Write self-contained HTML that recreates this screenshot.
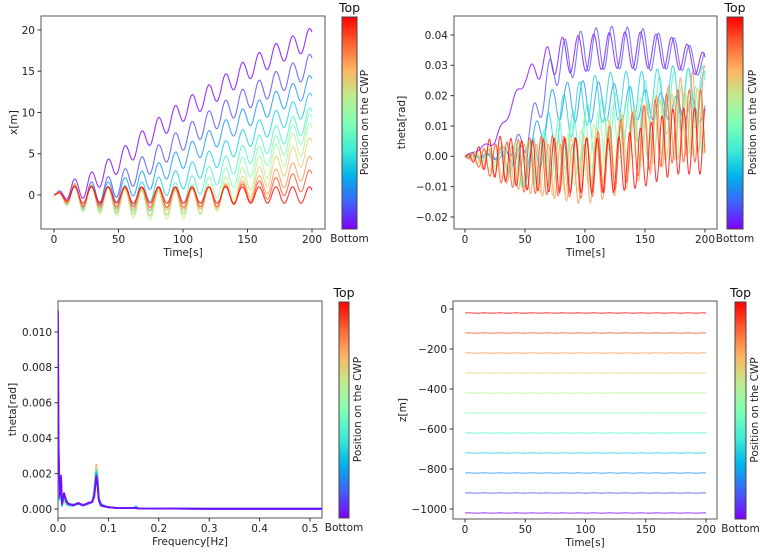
<!DOCTYPE html>
<html><head><meta charset="utf-8"><style>
body{margin:0;background:#fff}
svg{display:block;font-family:"DejaVu Sans","Liberation Sans",sans-serif}
</style></head><body>
<svg id="c" width="768" height="553" viewBox="0 0 768 553">
<defs>
<linearGradient id="rb" x1="0" y1="1" x2="0" y2="0">
<stop offset="0" stop-color="rgb(128,0,255)"/><stop offset="0.125" stop-color="rgb(64,98,250)"/>
<stop offset="0.25" stop-color="rgb(0,180,235)"/><stop offset="0.375" stop-color="rgb(64,236,212)"/>
<stop offset="0.5" stop-color="rgb(128,255,180)"/><stop offset="0.625" stop-color="rgb(191,236,141)"/>
<stop offset="0.75" stop-color="rgb(255,180,98)"/><stop offset="0.875" stop-color="rgb(255,98,50)"/>
<stop offset="1" stop-color="rgb(255,0,0)"/></linearGradient>
</defs>
</svg>
<script>
// ---- data ----
const T_KNOTS=[0,25,50,75,100,125,150,175,200];
const TL_center=[
[0,1.0,4.0,7.4,10.2,12.5,15.2,17.3,19.0],
[0,0,1.2,4.0,6.8,9.3,11.8,13.8,15.8],
[0,-0.2,0.5,2,4.5,7,9.5,11.5,13.3],
[0,-0.3,-0.3,0.5,2,4.5,7,9.2,11.2],
[0,-0.3,-0.6,-0.6,0.3,2.5,5,7.3,9.3],
[0,-0.4,-0.8,-1.0,-0.7,1,3.5,6,8.5],
[0,-0.4,-0.9,-1.3,-1.2,-0.2,2,4.8,7.2],
[0,-0.3,-0.7,-1.0,-0.9,-0.5,1,3.5,5.6],
[0,-0.2,-0.4,-0.5,-0.5,-0.3,0.5,2,3.5],
[0,-0.1,-0.2,-0.3,-0.3,-0.2,0.2,1,1.9],
[0,0,0,0,0,0,0,0,0]];
const TL_amp=[1.3,1.4,1.3,1.3,1.4,1.5,1.7,1.5,1.3,1.2,1.0];
const TR_center=[
[0,0.005,0.026,0.033,0.034,0.035,0.035,0.034,0.030],
[0,0,0.005,0.03,0.035,0.036,0.035,0.034,0.03],
[0,0,0,0.018,0.018,0.018,0.017,0.016,0.015],
[0,0,-0.004,0.01,0.018,0.02,0.02,0.022,0.02],
[0,0,-0.004,0.003,0.008,0.012,0.015,0.018,0.02],
[0,0,-0.003,0,0.004,0.008,0.01,0.012,0.012],
[0,0,-0.003,-0.002,0,0.005,0.008,0.01,0.01],
[0,-0.001,-0.003,-0.004,-0.002,0.003,0.007,0.01,0.012],
[0,-0.002,-0.004,-0.005,-0.006,-0.002,0.005,0.012,0.016],
[0,-0.002,-0.003,-0.003,-0.004,0,0.006,0.01,0.01],
[0,0,-0.003,-0.003,-0.003,-0.003,0,0.005,0.005]];
const TR_amp=[
[0,0.001,0.002,0.006,0.006,0.006,0.006,0.005,0.004],
[0,0.001,0.004,0.007,0.007,0.007,0.007,0.005,0.004],
[0,0.001,0.004,0.006,0.007,0.006,0.005,0.004,0.004],
[0,0.001,0.006,0.008,0.008,0.008,0.008,0.008,0.008],
[0,0.002,0.007,0.009,0.009,0.009,0.01,0.01,0.01],
[0,0.003,0.008,0.009,0.009,0.009,0.01,0.011,0.011],
[0,0.004,0.008,0.008,0.009,0.009,0.009,0.01,0.01],
[0,0.005,0.008,0.009,0.009,0.01,0.01,0.011,0.011],
[0,0.005,0.008,0.009,0.01,0.011,0.012,0.013,0.014],
[0,0.006,0.009,0.01,0.01,0.011,0.011,0.012,0.012],
[0,0.007,0.008,0.009,0.009,0.009,0.01,0.011,0.011]];
const TR_period=[13,13,13,13,12,11.5,11,10.5,10,9.5,9];
const TR_phase=[0,2,4,1,3,5,6,2,7,4,0];
const FFT_freq=[0,0.001,0.003,0.006,0.008,0.012,0.016,0.02,0.03,0.04,0.05,0.06,0.068,0.072,0.076,0.078,0.081,0.085,0.09,0.1,0.12,0.15,0.155,0.16,0.2,0.23,0.3,0.525];
const FFT_vals=[ // x1e-3, index 0 = bottom (purple)
[11.2,4,0.8,1.9,0.3,0.9,0.5,0.3,0.2,0.35,0.2,0.35,0.4,0.8,1.8,1.5,0.5,0.2,0.15,0.1,0.05,0.05,0.05,0.03,0.02,0.02,0.01,0.01],
[10,3.5,0.7,1.8,0.3,0.9,0.5,0.3,0.25,0.3,0.25,0.3,0.4,0.7,1.9,1.6,0.5,0.2,0.15,0.1,0.05,0.05,0.06,0.03,0.02,0.02,0.01,0.01],
[8,3,0.6,1.6,0.2,0.8,0.4,0.3,0.2,0.3,0.2,0.3,0.4,0.8,2.0,1.7,0.6,0.3,0.2,0.1,0.05,0.06,0.1,0.03,0.02,0.02,0.01,0.01],
[6,2.5,0.6,1.5,0.2,0.8,0.4,0.2,0.2,0.3,0.2,0.3,0.4,0.9,2.1,1.8,0.6,0.3,0.2,0.1,0.05,0.06,0.12,0.03,0.02,0.02,0.01,0.01],
[5,2.2,0.5,1.3,0.2,0.7,0.4,0.2,0.2,0.3,0.2,0.3,0.4,0.9,2.2,1.8,0.6,0.3,0.2,0.1,0.05,0.06,0.15,0.03,0.02,0.02,0.01,0.01],
[4,2,0.5,1.2,0.2,0.7,0.3,0.2,0.2,0.3,0.2,0.3,0.4,1.0,2.2,1.9,0.6,0.3,0.2,0.1,0.05,0.06,0.12,0.03,0.02,0.03,0.01,0.01],
[3.5,1.8,0.5,1.1,0.2,0.6,0.3,0.2,0.2,0.3,0.2,0.3,0.4,1.0,2.3,1.9,0.6,0.3,0.2,0.1,0.05,0.05,0.1,0.03,0.02,0.03,0.01,0.01],
[3,1.7,0.5,1.0,0.3,0.6,0.3,0.2,0.2,0.3,0.2,0.3,0.4,1.1,2.4,2.0,0.6,0.3,0.2,0.1,0.05,0.05,0.08,0.03,0.02,0.04,0.01,0.01],
[2.5,1.7,0.6,1.0,0.4,0.6,0.3,0.2,0.2,0.3,0.2,0.3,0.4,1.1,2.5,2.1,0.6,0.3,0.2,0.1,0.05,0.05,0.06,0.03,0.02,0.04,0.01,0.01],
[2,1.6,0.6,0.9,0.5,0.5,0.3,0.2,0.2,0.3,0.2,0.3,0.4,1.0,2.3,2.0,0.6,0.3,0.2,0.1,0.05,0.05,0.05,0.03,0.02,0.03,0.01,0.01],
[1.5,0.8,0.6,0.6,0.6,0.5,0.3,0.2,0.2,0.3,0.2,0.3,0.4,0.9,2.0,1.8,0.6,0.3,0.2,0.1,0.05,0.05,0.05,0.03,0.02,0.03,0.01,0.01]];
const Z_depth=[-1020,-920,-820,-720,-620,-520,-420,-320,-220,-120,-20];
const TL_yticks=[0,5,10,15,20];
const T_xticks=[0,50,100,150,200];
const TR_yticks=[-0.02,-0.01,0,0.01,0.02,0.03,0.04];
const BL_yticks=[0,0.002,0.004,0.006,0.008,0.010];
const BL_xticks=[0,0.1,0.2,0.3,0.4,0.5];
const BR_yticks=[-1000,-800,-600,-400,-200,0];

// ---- helpers ----
const svg=document.getElementById('c');const NS='http://www.w3.org/2000/svg';
function mk(tag,attrs,parent){const e=document.createElementNS(NS,tag);for(const k in attrs)e.setAttribute(k,attrs[k]);(parent||svg).appendChild(e);return e;}
function rainbow(x){const r=Math.min(1,Math.abs(2*x-0.5)),g=Math.sin(Math.PI*x),b=Math.cos(Math.PI*x/2);return `rgb(${Math.round(r*255)},${Math.round(g*255)},${Math.round(b*255)})`;}
function interp(xs,ys,x){if(x<=xs[0])return ys[0];for(let i=1;i<xs.length;i++){if(x<=xs[i]){const f=(x-xs[i-1])/(xs[i]-xs[i-1]);return ys[i-1]+f*(ys[i]-ys[i-1]);}}return ys[ys.length-1];}
function fmt(v,d){const s=v.toFixed(d);return s.replace('-','\u2212');}

function panel(p){
  const g=mk('g',{});
  
  
  const fr=mk('rect',{x:p.x0,y:p.y0,width:p.x1-p.x0,height:p.y1-p.y0,fill:'none',stroke:'#555','stroke-width':1},g);
  
  
  p.xticks.forEach(v=>{const x=p.xm(v);
    mk('line',{x1:x,x2:x,y1:p.y1,y2:p.y1+3.5,stroke:'#333'},g);
    const t=mk('text',{x:x,y:p.y1+14,'font-size':10.5,'text-anchor':'middle',fill:'#222'},g);t.textContent=p.xf(v);
    
    });
  p.yticks.forEach(v=>{const y=p.ym(v);
    mk('line',{x1:p.x0-3.5,x2:p.x0,y1:y,y2:y,stroke:'#333'},g);
    const t=mk('text',{x:p.x0-6,y:y+3.8,'font-size':10.5,'text-anchor':'end',fill:'#222'},g);t.textContent=p.yf(v);
    
    });
  const xl=mk('text',{x:(p.x0+p.x1)/2,y:p.y1+27,'font-size':10.5,'text-anchor':'middle',fill:'#222'},g);xl.textContent=p.xlabel;
  
  
  const yc=(p.y0+p.y1)/2;
  const yl=mk('text',{x:p.ylx,y:yc,'font-size':10.5,'text-anchor':'middle',fill:'#222',transform:`rotate(-90 ${p.ylx} ${yc})`},g);yl.textContent=p.ylabel;
  
  
  // colorbar
  const cb=mk('rect',{x:p.cb[0],y:p.y0+1,width:p.cb[1]-p.cb[0],height:p.y1-p.y0-1,fill:'url(#rb)',stroke:'#444','stroke-width':1},g);
  
  
  const cx=(p.cb[0]+p.cb[1])/2;
  const tp=mk('text',{x:cx,y:p.y0-4,'font-size':12.5,'text-anchor':'middle',fill:'#111'},g);tp.textContent='Top';
  
  
  const bt=mk('text',{x:cx,y:p.y1+13,'font-size':10.5,'text-anchor':'middle',fill:'#222'},g);bt.textContent='Bottom';
  
  
  const cl=mk('text',{x:p.cbl,y:yc,'font-size':10.5,'text-anchor':'middle',fill:'#222',transform:`rotate(-90 ${p.cbl} ${yc})`},g);cl.textContent='Position on the CWP';
  
  
  const clip='cl'+p.name;const cp=mk('clipPath',{id:clip},g);mk('rect',{x:p.x0,y:p.y0,width:p.x1-p.x0,height:p.y1-p.y0},cp);
  const lg=mk('g',{'clip-path':`url(#${clip})`},g);
  return lg;
}
function line(g,pts,col,name,op,w){const pl=mk('polyline',{points:pts.map(q=>q[0].toFixed(1)+','+q[1].toFixed(1)).join(' '),fill:'none',stroke:col,'stroke-width':w||1.1,'stroke-opacity':op||0.8,'stroke-linejoin':'round'},g);
  
  }

// ---- top-left ----
{const p={name:'x-displacement-panel',x0:41,x1:325,y0:16,y1:229,xm:t=>54+t*1.29,ym:v=>195-v*8.25,xticks:T_xticks,yticks:TL_yticks,xf:v=>String(v),yf:v=>String(v),xlabel:'Time[s]',ylabel:'x[m]',ylx:17,cb:[342,357],cbl:368};
 const g=panel(p);
 TL_center.forEach((c,i)=>{const pts=[];for(let t=0;t<=200;t+=0.5){const a=TL_amp[i]*Math.min(1,t/14);pts.push([p.xm(t),p.ym(interp(T_KNOTS,c,t)+a*Math.sin(2*Math.PI*(t-12.75)/13))]);}
   line(g,pts,rainbow(i/10),'x-series-'+i);});}
// ---- top-right ----
{const p={name:'theta-time-panel',x0:454,x1:717,y0:16,y1:229,xm:t=>465+t*1.2,ym:v=>156.3-v*3033,xticks:T_xticks,yticks:TR_yticks,xf:v=>String(v),yf:v=>fmt(v,2),xlabel:'Time[s]',ylabel:'theta[rad]',ylx:405,cb:[727,743],cbl:756};
 const g=panel(p);
 TR_center.forEach((c,i)=>{const pts=[];for(let t=0;t<=200;t+=0.5){pts.push([p.xm(t),p.ym(interp(T_KNOTS,c,t)+interp(T_KNOTS,TR_amp[i],t)*Math.sin(2*Math.PI*(t-TR_phase[i])/TR_period[i]))]);}
   line(g,pts,rainbow(i/10),'theta-series-'+i,0.75);});}
// ---- bottom-left ----
{const p={name:'theta-spectrum-panel',x0:58,x1:322,y0:301,y1:518,xm:f=>58+f*504,ym:v=>509-v*17700,xticks:BL_xticks,yticks:BL_yticks,xf:v=>v.toFixed(1),yf:v=>v.toFixed(3),xlabel:'Frequency[Hz]',ylabel:'theta[rad]',ylx:16,cb:[339,349],cbl:361};
 const g=panel(p);
 for(let i=FFT_vals.length-1;i>=0;i--){const pts=FFT_freq.map((f,k)=>[p.xm(f),p.ym(FFT_vals[i][k]/1000)]);line(g,pts,rainbow(i/10),'spectrum-series-'+i,0.9,1.8);}}
// ---- bottom-right ----
{const p={name:'z-position-panel',x0:453,x1:717,y0:301,y1:519,xm:t=>465+t*1.205,ym:v=>309-v*0.2,xticks:T_xticks,yticks:BR_yticks,xf:v=>String(v),yf:v=>fmt(v,0),xlabel:'Time[s]',ylabel:'z[m]',ylx:406,cb:[735,746],cbl:758};
 const g=panel(p);
 Z_depth.forEach((d,i)=>{const pts=[];for(let t=0;t<=200;t+=1){pts.push([p.xm(t),p.ym(d+1*Math.sin(2*Math.PI*t/13))]);}line(g,pts,rainbow(i/10),'z-series-'+i,0.7);});}
</script>
</body></html>
